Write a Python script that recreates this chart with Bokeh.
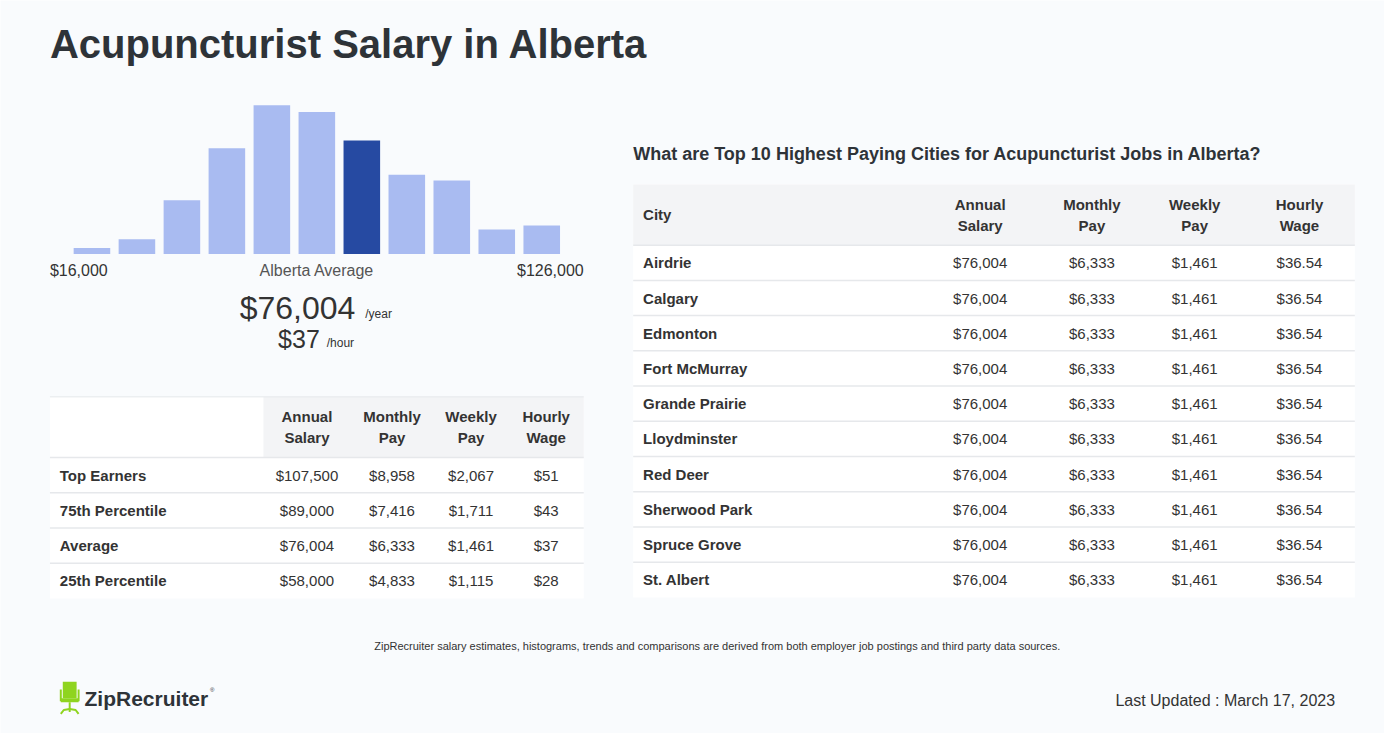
from bokeh.plotting import figure
from bokeh.models import Range1d
from bokeh.core.properties import value
from bokeh.embed import file_html
from bokeh.resources import INLINE

# ---------------- data ----------------
title = "Acupuncturist Salary in Alberta"
hist_bins = list(range(11))
hist_heights = [6, 15, 55, 108, 152, 145, 116, 81, 75, 25, 29]  # relative counts
hist_highlight = 6
range_low = "$16,000"
range_high = "$126,000"
avg_label = "Alberta Average"
avg_year = "$76,004"
avg_hour = "$37"

pct_header = ["Annual\nSalary", "Monthly\nPay", "Weekly\nPay", "Hourly\nWage"]
pct_rows = ["Top Earners", "75th Percentile", "Average", "25th Percentile"]
pct_annual = ["$107,500", "$89,000", "$76,004", "$58,000"]
pct_monthly = ["$8,958", "$7,416", "$6,333", "$4,833"]
pct_weekly = ["$2,067", "$1,711", "$1,461", "$1,115"]
pct_hourly = ["$51", "$43", "$37", "$28"]

city_title = "What are Top 10 Highest Paying Cities for Acupuncturist Jobs in Alberta?"
city_header = ["Annual\nSalary", "Monthly\nPay", "Weekly\nPay", "Hourly\nWage"]
cities = ["Airdrie", "Calgary", "Edmonton", "Fort McMurray", "Grande Prairie",
          "Lloydminster", "Red Deer", "Sherwood Park", "Spruce Grove", "St. Albert"]
city_annual = ["$76,004"] * 10
city_monthly = ["$6,333"] * 10
city_weekly = ["$1,461"] * 10
city_hourly = ["$36.54"] * 10

footnote = "ZipRecruiter salary estimates, histograms, trends and comparisons are derived from both employer job postings and third party data sources."
updated = "Last Updated : March 17, 2023"

# ---------------- styles ----------------
BG = "#f9fbfd"
DARK = "#2e3338"
TXT = "#333333"
FONT = value("Liberation Sans")
LIGHT_BAR = "#a9bbf1"
DARK_BAR = "#264aa2"
HEAD_BG = "#f3f4f6"
LINE = "#e6e8eb"

RW, RH = 1400, 749          # reference canvas coordinates
W, H = 1384, 733            # figure size in pixels
p = figure(width=W, height=H, output_backend="svg", toolbar_location=None,
           x_range=Range1d(0, RW), y_range=Range1d(RH, 0),
           min_border=0, background_fill_color=BG, border_fill_color=BG,
           outline_line_color=None)
p.axis.visible = False
p.grid.visible = False

# histogram ranges: bin i centred at 92.5 + 45.5*i, baseline at 259, 1 unit = 1 ref px
step = 45.5
x0 = 92.5
p.extra_x_ranges = {"hx": Range1d(-x0 / step, (RW - x0) / step)}
base = 259
p.extra_y_ranges = {"hy": Range1d(base - RH, base)}

def txt(x, y, s, size, color=TXT, bold=False, align="left"):
    p.text(x=[x], y=[y], text=[s], text_font=FONT, text_font_size=f"{size}px",
           text_color=color, text_font_style="bold" if bold else "normal",
           text_align=align, text_baseline="middle")

# title
txt(50, 44, title, 40, DARK, bold=True)

# histogram
colors = [DARK_BAR if i == hist_highlight else LIGHT_BAR for i in hist_bins]
p.vbar(x=hist_bins, top=hist_heights, bottom=0, width=37 / step, color=colors,
       line_color=None, x_range_name="hx", y_range_name="hy")
txt(50, 276, range_low, 16, TXT)
txt(320, 276, avg_label, 16, "#555555", align="center")
txt(590, 276, range_high, 16, TXT, align="right")
txt(359, 314, avg_year, 32, TXT, align="right")
txt(369, 320, "/year", 12, TXT)
txt(323, 346, avg_hour, 25, TXT, align="right")
txt(330, 350, "/hour", 12, TXT)

# left table
p.quad(left=[50], right=[590], top=[405], bottom=[611], fill_color="white", line_color=None)
p.quad(left=[266], right=[590], top=[405], bottom=[467], fill_color=HEAD_BG, line_color=None)
p.segment(x0=[50], x1=[590], y0=[405], y1=[405], line_color=LINE, line_width=1)
lcols = [310, 396, 476, 552]
for cx, h in zip(lcols, pct_header):
    a, b = h.split("\n")
    txt(cx, 425, a, 15, TXT, bold=True, align="center")
    txt(cx, 447, b, 15, TXT, bold=True, align="center")
row_h = 36
ltop = 467
for i, (lab, a, m, w, hr) in enumerate(zip(pct_rows, pct_annual, pct_monthly, pct_weekly, pct_hourly)):
    yc = ltop + row_h * (i + 0.5)
    p.segment(x0=[50], x1=[590], y0=[ltop + row_h * i], y1=[ltop + row_h * i], line_color=LINE, line_width=1.5)
    txt(60, yc, lab, 15, TXT, bold=True)
    for cx, v in zip(lcols, [a, m, w, hr]):
        txt(cx, yc, v, 15, TXT, align="center")

# right table
txt(640, 157, city_title, 18, DARK, bold=True)
p.quad(left=[640], right=[1370], top=[188], bottom=[610], fill_color="white", line_color=None)
p.quad(left=[640], right=[1370], top=[188], bottom=[250], fill_color=HEAD_BG, line_color=None)
rcols = [991, 1104, 1208, 1314]
txt(650, 219, "City", 15, TXT, bold=True)
for cx, h in zip(rcols, city_header):
    a, b = h.split("\n")
    txt(cx, 208, a, 15, TXT, bold=True, align="center")
    txt(cx, 230, b, 15, TXT, bold=True, align="center")
rtop = 250
for i, (c, a, m, w, hr) in enumerate(zip(cities, city_annual, city_monthly, city_weekly, city_hourly)):
    yc = rtop + row_h * (i + 0.5)
    p.segment(x0=[640], x1=[1370], y0=[rtop + row_h * i], y1=[rtop + row_h * i], line_color=LINE, line_width=1.5)
    txt(650, yc, c, 15, TXT, bold=True)
    for cx, v in zip(rcols, [a, m, w, hr]):
        txt(cx, yc, v, 15, TXT, align="center")

# footer
txt(725, 660, footnote, 11, TXT, align="center")
txt(1350, 715, updated, 16, TXT, align="right")

# logo chair icon
G = "#8fd41f"
p.quad(left=[63], right=[77], top=[696], bottom=[713], fill_color=G, line_color=None)
p.quad(left=[60, 78], right=[62, 80], top=[704, 704], bottom=[716, 716], fill_color=G, line_color=None)
p.quad(left=[61], right=[79], top=[713], bottom=[717], fill_color=G, line_color=None)
p.quad(left=[69], right=[71], top=[717], bottom=[727], fill_color=G, line_color=None)
p.multi_line(xs=[[61, 64, 70, 76, 79]], ys=[[729, 725, 724, 725, 729]], line_color=G, line_width=2)
txt(85, 713, "ZipRecruiter", 21, DARK, bold=True)
txt(212, 705, "®", 6, DARK)

open("out.html", "w").write(file_html(p, INLINE))
